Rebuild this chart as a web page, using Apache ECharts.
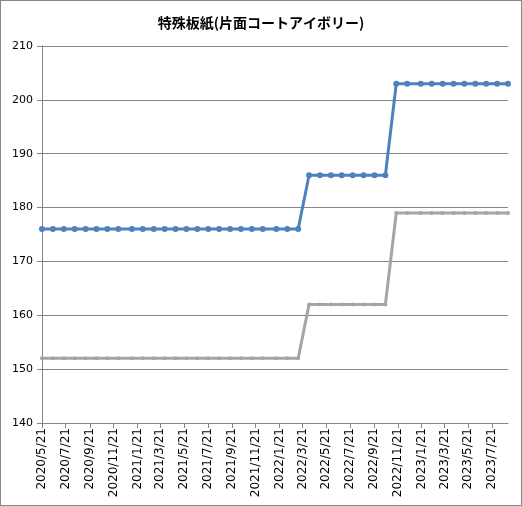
<!DOCTYPE html>
<html>
<head>
<meta charset="utf-8">
<script src="https://cdn.jsdelivr.net/npm/echarts@6/dist/echarts.min.js"></script>
<style>
html, body { margin: 0; padding: 0; background: #fff; }
#chart { width: 522px; height: 506px; box-sizing: border-box; border: 1px solid #868686; }
</style>
</head>
<body>
<div id="chart"></div>
<script>
// survey dates (every 4 weeks, 5 weeks over new year)
var dates = [
  '2020/5/21', '2020/6/18', '2020/7/16', '2020/8/13', '2020/9/10', '2020/10/8', '2020/11/5', '2020/12/3',
  '2021/1/7', '2021/2/4', '2021/3/4', '2021/4/1', '2021/4/29', '2021/5/27', '2021/6/24', '2021/7/22',
  '2021/8/19', '2021/9/16', '2021/10/14', '2021/11/11', '2021/12/9',
  '2022/1/13', '2022/2/10', '2022/3/10', '2022/4/7', '2022/5/5', '2022/6/2', '2022/6/30', '2022/7/28',
  '2022/8/25', '2022/9/22', '2022/10/20', '2022/11/17', '2022/12/15',
  '2023/1/19', '2023/2/16', '2023/3/16', '2023/4/13', '2023/5/11', '2023/6/8', '2023/7/6', '2023/8/3', '2023/8/31'
];
var highValues = [
  176, 176, 176, 176, 176, 176, 176, 176,
  176, 176, 176, 176, 176, 176, 176, 176,
  176, 176, 176, 176, 176,
  176, 176, 176, 186, 186, 186, 186, 186,
  186, 186, 186, 203, 203,
  203, 203, 203, 203, 203, 203, 203, 203, 203
];
var lowValues = [
  152, 152, 152, 152, 152, 152, 152, 152,
  152, 152, 152, 152, 152, 152, 152, 152,
  152, 152, 152, 152, 152,
  152, 152, 152, 162, 162, 162, 162, 162,
  162, 162, 162, 179, 179,
  179, 179, 179, 179, 179, 179, 179, 179, 179
];
var tickLabels = [
  '2020/5/21', '2020/7/21', '2020/9/21', '2020/11/21', '2021/1/21', '2021/3/21', '2021/5/21',
  '2021/7/21', '2021/9/21', '2021/11/21', '2022/1/21', '2022/3/21', '2022/5/21', '2022/7/21',
  '2022/9/21', '2022/11/21', '2023/1/21', '2023/3/21', '2023/5/21', '2023/7/21'
];

function toTime(s) {
  var p = s.split('/');
  return Date.UTC(+p[0], p[1] - 1, +p[2]);
}
function fmt(v) {
  var d = new Date(v);
  return d.getUTCFullYear() + '/' + (d.getUTCMonth() + 1) + '/' + d.getUTCDate();
}

var ticks = tickLabels.map(toTime);
var axisColor = '#868686';

echarts.init(document.getElementById('chart')).setOption({
  animation: false,
  title: {
    text: '特殊板紙(片面コートアイボリー)',
    left: 'center',
    top: 10,
    textStyle: {
      fontFamily: 'Noto Sans CJK JP',
      fontSize: 14,
      fontWeight: 'bold',
      color: '#000'
    }
  },
  grid: {
    left: 41,
    right: 13,
    top: 45,
    bottom: 82,
    outerBoundsMode: 'none'
  },
  xAxis: {
    type: 'value',
    min: toTime(dates[0]),
    max: toTime(dates[dates.length - 1]),
    axisLine: { lineStyle: { color: axisColor, width: 1 } },
    axisTick: {
      show: true,
      customValues: ticks,
      length: 5,
      lineStyle: { color: axisColor }
    },
    axisLabel: {
      customValues: ticks,
      rotate: 90,
      margin: 5,
      formatter: fmt,
      fontFamily: 'DejaVu Sans',
      fontSize: 12,
      color: '#000'
    },
    splitLine: { show: false }
  },
  yAxis: {
    type: 'value',
    min: 140,
    max: 210,
    interval: 10,
    axisLine: { show: true, lineStyle: { color: axisColor, width: 1 } },
    axisTick: { show: true, length: 5, lineStyle: { color: axisColor } },
    axisLabel: {
      margin: 9,
      fontFamily: 'DejaVu Sans',
      fontSize: 11,
      color: '#000'
    },
    splitLine: { lineStyle: { color: axisColor, width: 1 } }
  },
  series: [
    {
      name: 'low',
      type: 'line',
      data: dates.map(function (d, i) { return [toTime(d), lowValues[i]]; }),
      symbol: 'circle',
      symbolSize: 4,
      lineStyle: { color: '#A5A5A5', width: 3 },
      itemStyle: { color: '#A5A5A5' }
    },
    {
      name: 'high',
      type: 'line',
      data: dates.map(function (d, i) { return [toTime(d), highValues[i]]; }),
      symbol: 'circle',
      symbolSize: 6,
      lineStyle: { color: '#4F81BD', width: 3 },
      itemStyle: { color: '#4F81BD' }
    }
  ]
});
</script>
</body>
</html>
